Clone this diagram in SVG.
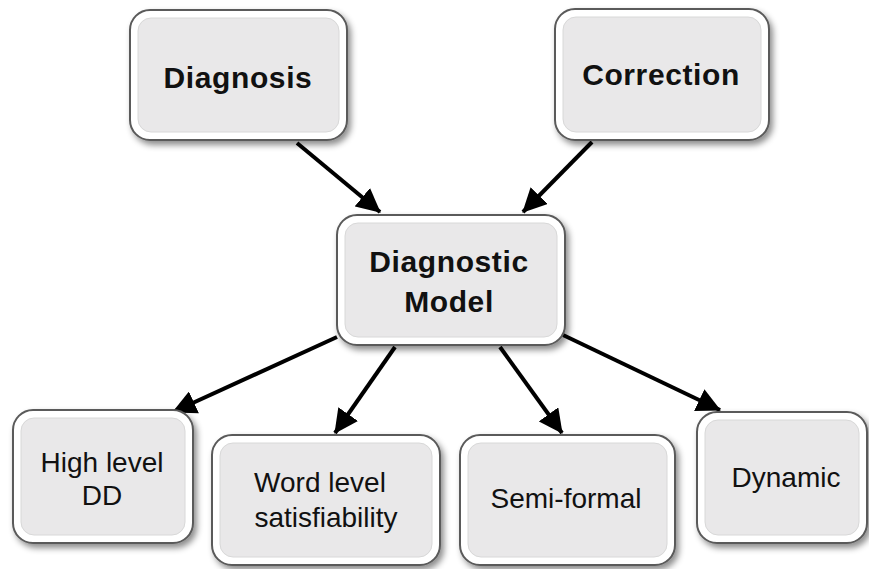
<svg xmlns="http://www.w3.org/2000/svg" width="869" height="569" viewBox="0 0 869 569">
<style>
.outer{fill:#ffffff;stroke:#5a5a5a;stroke-width:2;filter:url(#sh)}
.inner{fill:#e9e8e9;stroke:#d8d8d8;stroke-width:1}
.tb{font-family:"Liberation Sans",Arial,sans-serif;font-weight:bold;font-size:30px;fill:#111;text-anchor:middle;letter-spacing:0.6px}
.tr{font-family:"Liberation Sans",Arial,sans-serif;font-size:28px;fill:#111;text-anchor:middle}
.conn{stroke:#000;stroke-width:4;fill:none;marker-end:url(#ah)}
</style>
<defs>
<filter id="sh" x="-10%" y="-10%" width="125%" height="130%">
<feDropShadow dx="3" dy="4" stdDeviation="3" flood-color="#000" flood-opacity="0.45"/>
</filter>
<marker id="ah" markerUnits="userSpaceOnUse" markerWidth="26" markerHeight="24" refX="23" refY="12" orient="auto">
<path d="M0,0 L24,12 L0,24 Z" fill="#000"/>
</marker>
</defs>
<rect width="869" height="569" fill="#fff"/>
<g id="connectors">
<line class="conn" x1="297" y1="143" x2="380" y2="212"/>
<line class="conn" x1="592" y1="142" x2="523" y2="212"/>
<line class="conn" x1="337" y1="337" x2="173" y2="412"/>
<line class="conn" x1="395" y1="347" x2="335" y2="433"/>
<line class="conn" x1="500" y1="347" x2="562" y2="433"/>
<line class="conn" x1="563" y1="335" x2="720" y2="410"/>
</g>
<g id="diagnosis">
<rect class="outer" x="130" y="10" width="217" height="130" rx="20"/>
<rect class="inner" x="138" y="18" width="201" height="114" rx="13"/>
<text class="tb" x="238" y="88">Diagnosis</text>
</g>
<g id="correction">
<rect class="outer" x="555" y="9" width="214" height="131" rx="20"/>
<rect class="inner" x="563" y="17" width="198" height="115" rx="13"/>
<text class="tb" x="661" y="85">Correction</text>
</g>
<g id="diagnostic-model">
<rect class="outer" x="337" y="215" width="228" height="130" rx="20"/>
<rect class="inner" x="345" y="223" width="212" height="114" rx="13"/>
<text class="tb" x="449" y="272">Diagnostic</text>
<text class="tb" x="449" y="312">Model</text>
</g>
<g id="high-level-dd">
<rect class="outer" x="13" y="410" width="180" height="133" rx="20"/>
<rect class="inner" x="21" y="418" width="164" height="117" rx="13"/>
<text class="tr" x="102" y="472">High level</text>
<text class="tr" x="102" y="505">DD</text>
</g>
<g id="word-level">
<rect class="outer" x="212" y="435" width="228" height="130" rx="20"/>
<rect class="inner" x="220" y="443" width="212" height="114" rx="13"/>
<text class="tr" x="320" y="492">Word level</text>
<text class="tr" x="326" y="527">satisfiability</text>
</g>
<g id="semi-formal">
<rect class="outer" x="460" y="435" width="215" height="130" rx="20"/>
<rect class="inner" x="468" y="443" width="199" height="114" rx="13"/>
<text class="tr" x="566" y="508">Semi-formal</text>
</g>
<g id="dynamic">
<rect class="outer" x="697" y="412" width="170" height="131" rx="20"/>
<rect class="inner" x="705" y="420" width="154" height="115" rx="13"/>
<text class="tr" x="786" y="487">Dynamic</text>
</g>
</svg>
